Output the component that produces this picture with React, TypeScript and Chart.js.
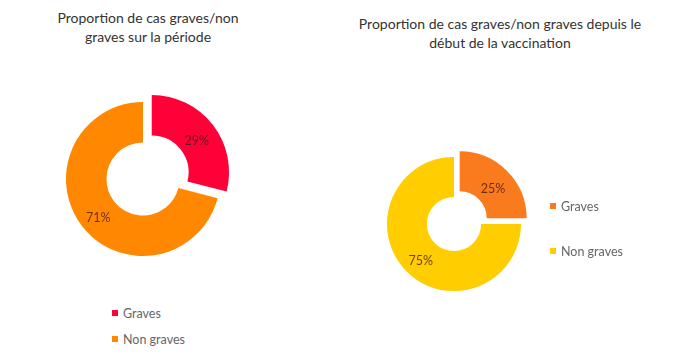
import React, { useEffect, useRef } from "react";
import { Chart, registerables } from "chart.js";

Chart.register(...registerables);

const categories = ["Graves", "Non graves"];
const periodValues = [29, 71];
const vaccinationValues = [25, 75];
const periodTitle = ["Proportion de cas graves/non", "graves sur la période"];
const vaccinationTitle = ["Proportion de cas graves/non graves depuis le", "début de la vaccination"];
const periodColors = ["#FF0038", "#FF8800"];
const vaccinationColors = ["#FA7A1E", "#FFCD00"];

const FONT = "Lato, 'Open Sans', sans-serif";

const labelPlugin = {
  id: "pctLabels",
  afterDatasetsDraw(chart: any) {
    const { ctx } = chart;
    const meta = chart.getDatasetMeta(0);
    const data = chart.data.datasets[0].data as number[];
    ctx.save();
    ctx.font = `12.5px ${FONT}`;
    ctx.fillStyle = "rgba(70,25,25,0.8)";
    ctx.textAlign = "center";
    ctx.textBaseline = "middle";
    meta.data.forEach((arc: any, i: number) => {
      const off = (arc.options.offset || 0) / 4;
      const circ = arc.endAngle - arc.startAngle;
      const fix = 1 - Math.sin(Math.min(Math.PI, circ));
      const d = off * (1 + fix);
      const half = (arc.startAngle + arc.endAngle) / 2;
      const r = (arc.innerRadius + arc.outerRadius) / 2 + d;
      ctx.fillText(`${data[i]}%`, arc.x + Math.cos(half) * r, arc.y + Math.sin(half) * r + 4);
    });
    ctx.restore();
  },
};

function Donut(props: {
  values: number[];
  colors: string[];
  left: number;
  top: number;
  size: number;
  radius: number;
  cutout: number;
  offset: number;
}) {
  const ref = useRef<HTMLCanvasElement>(null);
  useEffect(() => {
    if (!ref.current) return;
    const chart = new Chart(ref.current, {
      type: "doughnut",
      data: {
        labels: categories,
        datasets: [
          {
            data: props.values,
            backgroundColor: props.colors,
            borderWidth: 0,
            offset: [props.offset, 0],
          },
        ],
      },
      options: {
        animation: false,
        responsive: false,
        radius: props.radius,
        cutout: props.cutout,
        layout: { padding: 0 },
        plugins: { legend: { display: false }, title: { display: false }, tooltip: { enabled: false } },
      } as any,
      plugins: [labelPlugin],
    });
    return () => chart.destroy();
  }, []);
  return (
    <canvas
      ref={ref}
      width={props.size}
      height={props.size}
      style={{ position: "fixed", left: props.left, top: props.top, width: props.size, height: props.size }}
    />
  );
}

function Legend(props: { colors: string[]; left: number; top: number; gap: number }) {
  return (
    <div style={{ position: "fixed", left: props.left, top: props.top, fontFamily: FONT, fontSize: 12.5, color: "#666" }}>
      {categories.map((c, i) => (
        <div key={c} style={{ display: "flex", alignItems: "center", height: 16, marginBottom: i === 0 ? props.gap : 0 }}>
          <span style={{ width: 6, height: 6, background: props.colors[i], display: "inline-block", marginRight: 5 }} />
          <span>{c}</span>
        </div>
      ))}
    </div>
  );
}

function Title(props: { lines: string[]; cx: number; top: number }) {
  return (
    <div
      style={{
        position: "fixed",
        left: props.cx - 200,
        width: 400,
        top: props.top,
        textAlign: "center",
        fontFamily: FONT,
        fontSize: 14,
        lineHeight: "19px",
        color: "#333",
      }}
    >
      {props.lines.map((l) => (
        <div key={l}>{l}</div>
      ))}
    </div>
  );
}

export default function App() {
  return (
    <div style={{ width: 700, height: 358, background: "#fff", position: "fixed", left: 0, top: 0 }}>
      <Title lines={periodTitle} cx={148} top={8} />
      <Title lines={vaccinationTitle} cx={500} top={14} />
      <Donut values={periodValues} colors={periodColors} left={43} top={79} size={200} radius={77} cutout={37} offset={44} />
      <Donut values={vaccinationValues} colors={vaccinationColors} left={354} top={124} size={200} radius={67} cutout={34} offset={32} />
      <Legend colors={periodColors} left={112} top={305} gap={10} />
      <Legend colors={vaccinationColors} left={550} top={198} gap={29} />
    </div>
  );
}
